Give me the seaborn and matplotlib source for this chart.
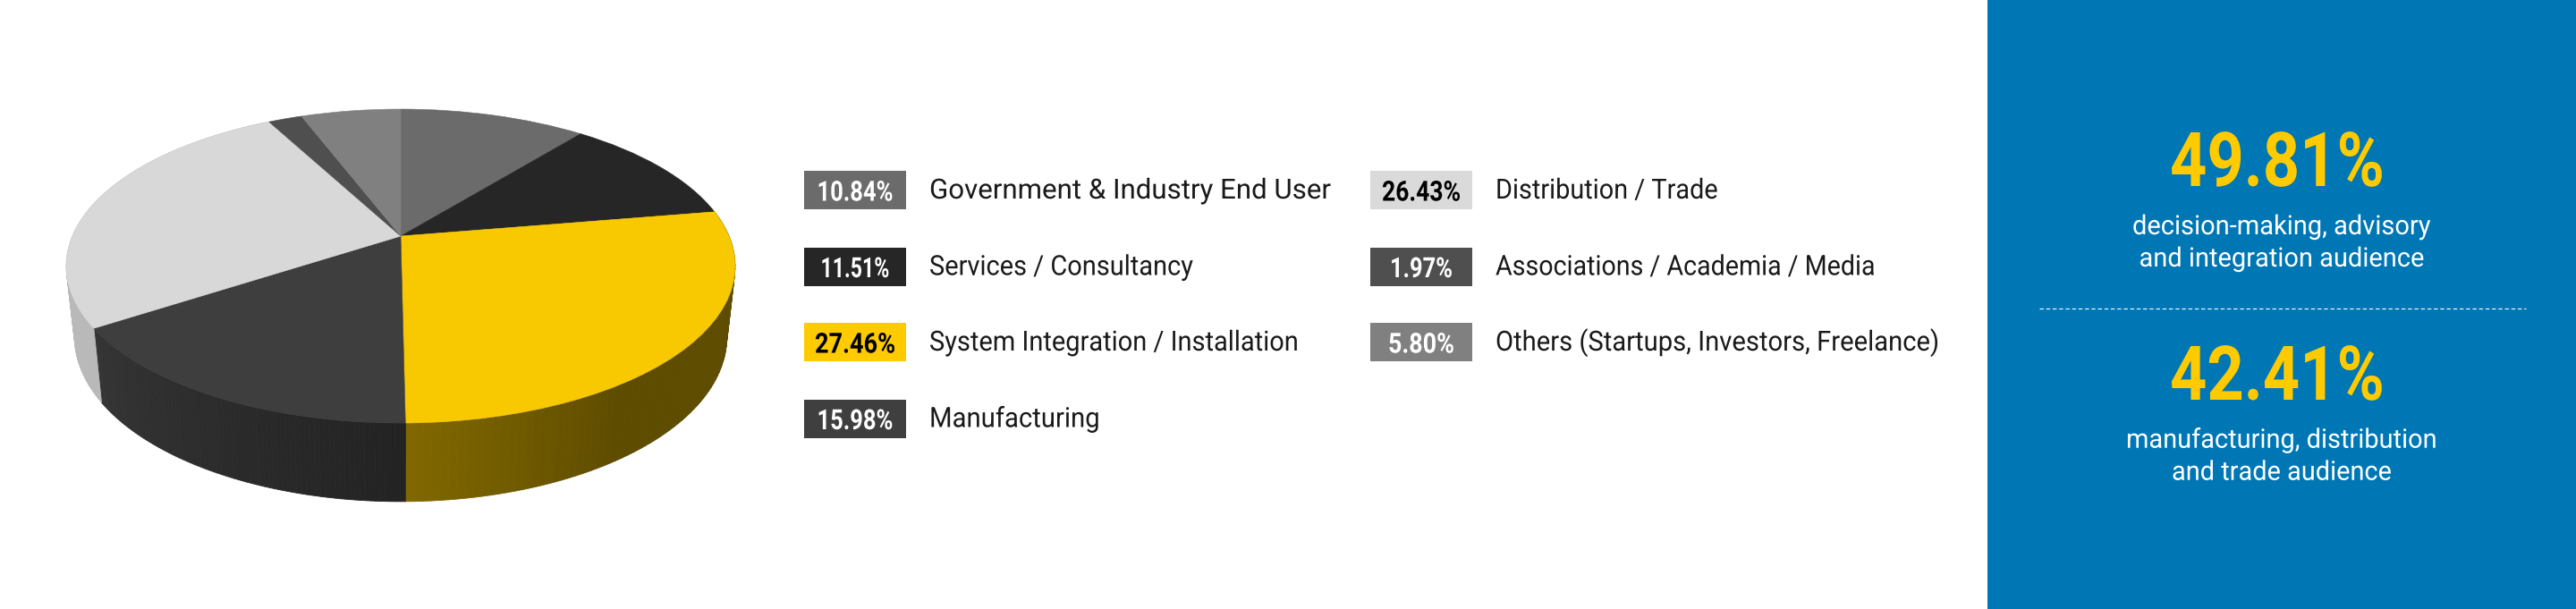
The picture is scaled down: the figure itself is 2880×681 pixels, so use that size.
import numpy as np
import matplotlib
matplotlib.use('Agg')
import matplotlib.pyplot as plt
from matplotlib.patheffects import AbstractPathEffect
from matplotlib.transforms import Affine2D, Transform
import seaborn as sns

# Data
labels = ['Government & Industry End User', 'Services / Consultancy',
          'System Integration / Installation', 'Manufacturing',
          'Distribution / Trade', 'Associations / Academia / Media',
          'Others (Startups, Investors, Freelance)']
values = [10.84, 11.51, 27.46, 15.98, 26.43, 1.97, 5.80]
top_colors = ['#6b6b6b', '#262626', '#f8c900', '#3e3e3e', '#d8d8d8', '#4f4f4f', '#808080']
box_colors = ['#6b6b6b', '#262626', '#fecb00', '#3f3f3f', '#dadada', '#4f4f4f', '#808080']
label_colors = ['white', 'white', 'black', 'white', 'black', 'white', 'white']
wall_nodes = [None, None, ['#5e4c00', '#5e4c00', '#5e4c00', '#806700'],
              ['#232323', '#343434'], ['#b9b9b9', '#b9b9b9'], None, None]

summary_values = ['49.81%', '42.41%']
summary_lines = [['decision-making, advisory', 'and integration audience'],
                 ['manufacturing, distribution', 'and trade audience']]

# text widths, in pixels (the original font is condensed)
label_widths = [449, 295, 413, 191, 249, 425, 496]
badge_widths = [85, 77, 90, 85, 88, 70, 74]
line_widths = [[334, 319], [348, 246]]

BLUE = '#0077b5'
YELLOW = '#ffcb00'

sns.set_theme(style='white')
plt.rcParams['font.family'] = ['Roboto', 'DejaVu Sans']


# tilted disc: unit circle -> pixels
def project(u, v, sx=1.0, sy=1.0, dy=0.0):
    w = 1 + 0.191 * v
    return 448 + sx * 367 * u / w, 264 - sy * 169.1 * v / w + dy


class TiltTransform(Transform):
    input_dims = 2
    output_dims = 2

    def transform_non_affine(self, values):
        x, y = project(values[:, 0], values[:, 1])
        return np.column_stack([x, y])


# no condensed font here, so squeeze the glyphs sideways when they get drawn
class Squeeze(AbstractPathEffect):
    def __init__(self, factor, anchor):
        super().__init__()
        self.factor = factor
        self.anchor = anchor

    def draw_path(self, renderer, gc, tpath, affine, rgbFace=None):
        squeeze = Affine2D().translate(-self.anchor, 0).scale(self.factor, 1).translate(self.anchor, 0)
        renderer.draw_path(gc, tpath, affine + squeeze, rgbFace)


def fit_text(x, y, s, width, **kw):
    t = ax.text(x, y, s, va='baseline', zorder=4, **kw)
    full = t.get_window_extent(fig.canvas.get_renderer()).width
    t.set_path_effects([Squeeze(width / full, ax.transData.transform((x, y))[0])])
    return t


fig = plt.figure(figsize=(28.8, 6.81), dpi=100, facecolor='white')
ax = fig.add_axes([0, 0, 1, 1])

wedges, _ = ax.pie(values, colors=top_colors, startangle=90, counterclock=False,
                   wedgeprops={'linewidth': 0.4, 'zorder': 5})
ax.set_aspect('auto')
ax.set_xlim(0, 2880)
ax.set_ylim(681, 0)
ax.axis('off')
tilt = TiltTransform()
for w, c in zip(wedges, top_colors):
    w.set_edgecolor(c)
    w.set_transform(tilt + ax.transData)

# side wall, only the front slices show
ends = np.cumsum(values) / 100 * 2 * np.pi
starts = ends - np.array(values) / 100 * 2 * np.pi
for a, b, nodes in zip(starts, ends, wall_nodes):
    if nodes is None:
        continue
    th = np.linspace(a, b, 80)
    pal = sns.blend_palette(nodes, len(th) - 1)
    u, v = np.sin(th), np.cos(th)
    x1, y1 = project(u, v)
    x2, y2 = project(u, v, sx=0.975, sy=1.047, dy=78)
    for i in range(len(th) - 1):
        ax.fill([x1[i], x1[i + 1], x2[i + 1], x2[i]],
                [y1[i], y1[i + 1], y2[i + 1], y2[i]],
                color=pal[i], lw=0.6, zorder=2)

# legend
rows = [212.5, 298, 382.5, 468]
cols = [(899, 1039), (1532, 1672)]
slots = [(0, 0), (0, 1), (0, 2), (0, 3), (1, 0), (1, 1), (1, 2)]
for i, (c, r) in enumerate(slots):
    bx, tx = cols[c]
    ax.fill_between([bx, bx + 114], rows[r] - 21.5, rows[r] + 21.5,
                    color=box_colors[i], lw=0, zorder=3)
    fit_text(bx + 57, rows[r] + 12, f'{values[i]:.2f}%', badge_widths[i], color=label_colors[i],
             ha='center', fontsize=22.5, fontweight='bold')
    fit_text(tx, rows[r] + 9.5, labels[i], label_widths[i], color='#1a1a1a', ha='left',
             fontsize=22.3)

# blue panel
ax.fill_between([2222, 2880], 0, 681, color=BLUE, lw=0, zorder=1)
ax.plot([2280, 2824], [345, 345], color='white', lw=0.8, dashes=(4, 2.5), zorder=3)
for val, lines, widths, y0, y1 in zip(summary_values, summary_lines, line_widths,
                                      [208, 447], [262, 500.7]):
    fit_text(2546, y0, val, 240, color=YELLOW, ha='center', fontsize=60.8, fontweight='bold')
    for k, line in enumerate(lines):
        fit_text(2551, y1 + 36 * k, line, widths[k], color='white', ha='center',
                 fontsize=21.5)

fig.savefig('out.png', dpi=100, facecolor='white')
